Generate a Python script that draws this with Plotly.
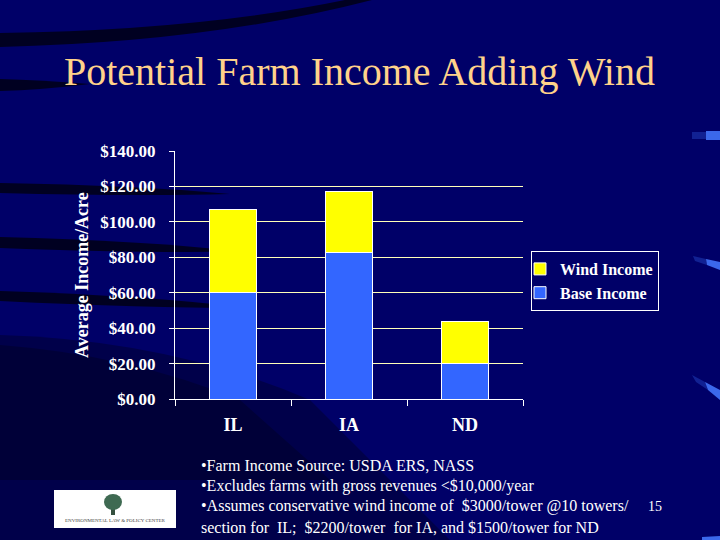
import plotly.graph_objects as go

# ---------------- data ----------------
categories = ["IL", "IA", "ND"]
base_income = [60.0, 82.5, 20.0]
wind_income = [47.0, 34.5, 24.0]
y_ticks = [0, 20, 40, 60, 80, 100, 120, 140]
y_tick_labels = ["$0.00", "$20.00", "$40.00", "$60.00", "$80.00", "$100.00", "$120.00", "$140.00"]
series_names = ["Base Income", "Wind Income"]
title_text = "Potential Farm Income Adding Wind"
y_title = "Average Income/Acre"
notes = [
    "\u2022Farm Income Source: USDA ERS, NASS",
    "\u2022Excludes farms with gross revenues <$10,000/year",
    "\u2022Assumes conservative wind income of  $3000/tower @10 towers/",
    "section for  IL;  $2200/tower  for IA, and $1500/tower for ND",
]
slide_number = "15"
logo_text = "ENVIRONMENTAL LAW & POLICY CENTER"

# ---------------- layout geometry ----------------
W, H = 720, 540
L, R, T, B = 175, 197, 151, 141
PW, PH = W - L - R, H - T - B
SERIF = "Liberation Serif"


def px(x):
    return (x - L) / PW


def py(y):
    return (T + PH - y) / PH


def path(*cmds):
    out = []
    for c in cmds:
        op, pts = c[0], c[1:]
        out.append(op + " " + " ".join(f"{px(a):.4f},{py(b):.4f}" for a, b in pts))
    return " ".join(out) + " Z"


def deco(p, color, layer="below"):
    return dict(type="path", xref="paper", yref="paper", path=p, fillcolor=color,
                line=dict(width=0), layer=layer)


fig = go.Figure()
fig.add_trace(go.Bar(
    x=categories, y=base_income, name=series_names[0],
    marker=dict(color="#3366FF", line=dict(color="#FFFFFF", width=1)),
    width=0.41,
))
fig.add_trace(go.Bar(
    x=categories, y=wind_income, name=series_names[1],
    marker=dict(color="#FFFF00", line=dict(color="#FFFFFF", width=1)),
    width=0.41,
))

shapes = []
dark = "rgba(0,0,15,0.8)"
# lower-left darker wedge (soft gradient)
shapes.append(deco(path(("M", (0, 335)), ("Q", (170, 340), (310, 400)), ("L", (450, 540)), ("L", (0, 540))),
                   "rgba(0,0,30,0.4)"))
shapes.append(deco(path(("M", (0, 345)), ("Q", (130, 355), (240, 400)), ("L", (330, 480)), ("L", (0, 480))),
                   "rgba(0,0,15,0.3)"))
# top arc streak
shapes.append(deco(path(("M", (0, 33)), ("Q", (200, 30), (345, 0)), ("L", (372, 0)), ("Q", (210, 42), (0, 47))),
                   dark))
# left streaks
shapes.append(deco(path(("M", (0, 79)), ("Q", (40, 80), (90, 84)), ("Q", (40, 90), (0, 91))), dark))
for y0, y1, xe, drop in [(183, 193, 230, 6), (237, 248, 240, 9), (291, 301, 250, 12)]:
    shapes.append(deco(path(("M", (0, y0)), ("Q", (xe * 0.6, y0 + drop * 0.4), (xe, y0 + drop + (y1 - y0) / 2)),
                            ("Q", (xe * 0.6, y1 + drop * 0.6), (0, y1))), dark))
# blue highlights at right edge (faint tail + bright head)
tail = "rgba(50,95,230,0.35)"
head = "rgba(65,115,250,0.9)"
shapes.append(deco(path(("M", (692, 132)), ("L", (706, 132)), ("L", (706, 139)), ("L", (692, 139))), tail))
shapes.append(deco(path(("M", (706, 131)), ("L", (720, 131)), ("L", (720, 140)), ("L", (706, 140))), head))
shapes.append(deco(path(("M", (693, 256)), ("L", (706, 259)), ("L", (707, 265)), ("L", (695, 261))), tail))
shapes.append(deco(path(("M", (706, 259)), ("L", (720, 262)), ("L", (720, 270)), ("L", (707, 265))), head))
shapes.append(deco(path(("M", (692, 375)), ("L", (705, 382)), ("L", (708, 390)), ("L", (696, 382))), tail))
shapes.append(deco(path(("M", (705, 382)), ("L", (720, 390)), ("L", (720, 400)), ("L", (708, 390))), head))
shapes.append(deco(path(("M", (702, 537)), ("L", (720, 536)), ("L", (720, 540)), ("L", (702, 540))), head))
# logo
shapes.append(dict(type="rect", xref="paper", yref="paper", x0=px(54), x1=px(176), y0=py(528), y1=py(490),
                   fillcolor="#FFFFFF", line=dict(width=0), layer="above"))
shapes.append(dict(type="rect", xref="paper", yref="paper", x0=px(111), x1=px(115), y0=py(515), y1=py(505),
                   fillcolor="#35503F", line=dict(width=0), layer="above"))
shapes.append(dict(type="circle", xref="paper", yref="paper", x0=px(104), x1=px(122), y0=py(510), y1=py(494),
                   fillcolor="#3F6A52", line=dict(width=0), layer="above"))

annotations = [
    dict(text=title_text, x=px(359), y=py(71), xref="paper", yref="paper", showarrow=False,
         xanchor="center", yanchor="middle", font=dict(family=SERIF, size=40, color="#FFD28A")),
    dict(text=y_title, x=px(82), y=py(275), xref="paper", yref="paper", showarrow=False, textangle=-90,
         xanchor="center", yanchor="middle", font=dict(family=SERIF, size=18, color="#FFFFFF", weight="bold")),
    dict(text=slide_number, x=px(655), y=py(506), xref="paper", yref="paper", showarrow=False,
         xanchor="center", yanchor="middle", font=dict(family=SERIF, size=14, color="#FFFFFF")),
    dict(text=logo_text, x=px(115), y=py(520), xref="paper", yref="paper", showarrow=False,
         xanchor="center", yanchor="middle", font=dict(family=SERIF, size=5, color="#444444")),
]
for i, line in enumerate(notes):
    annotations.append(dict(text=line.replace("<", "&lt;"), x=px(199), y=py(465 + i * 20.7), xref="paper",
                            yref="paper", showarrow=False, xanchor="left", yanchor="middle",
                            font=dict(family=SERIF, size=16, color="#FFFFFF")))

fig.update_layout(
    width=W, height=H,
    margin=dict(l=L, r=R, t=T, b=B, pad=0),
    paper_bgcolor="#000068",
    plot_bgcolor="rgba(0,0,0,0)",
    barmode="stack",
    showlegend=True,
    legend=dict(x=px(531), y=py(251), xanchor="left", yanchor="top", bgcolor="rgba(0,0,0,0)",
                bordercolor="#FFFFFF", borderwidth=1, traceorder="reversed", itemwidth=30,
                indentation=-12, tracegroupgap=0,
                font=dict(family=SERIF, size=16, color="#FFFFFF", weight="bold")),
    shapes=shapes,
    annotations=annotations,
    xaxis=dict(showline=True, linecolor="#FFFFFF", linewidth=1, ticks="outside", tickson="boundaries",
               ticklen=6, tickcolor="#FFFFFF", showgrid=False, ticklabelstandoff=9,
               tickfont=dict(family=SERIF, size=18, color="#FFFFFF", weight="bold")),
    yaxis=dict(range=[0, 140], tickvals=y_ticks, ticktext=y_tick_labels,
               showline=True, linecolor="#FFFFFF", linewidth=1, ticks="outside", ticklen=5,
               tickcolor="#FFFFFF", showgrid=True, gridcolor="#FFFFB8", gridwidth=1, zeroline=False,
               ticklabelstandoff=10,
               tickfont=dict(family=SERIF, size=17, color="#FFFFFF", weight="bold")),
)

fig.write_html("out.html", config={"displayModeBar": False},
               post_script="document.body.style.margin='0';document.body.style.background='#000068';")
